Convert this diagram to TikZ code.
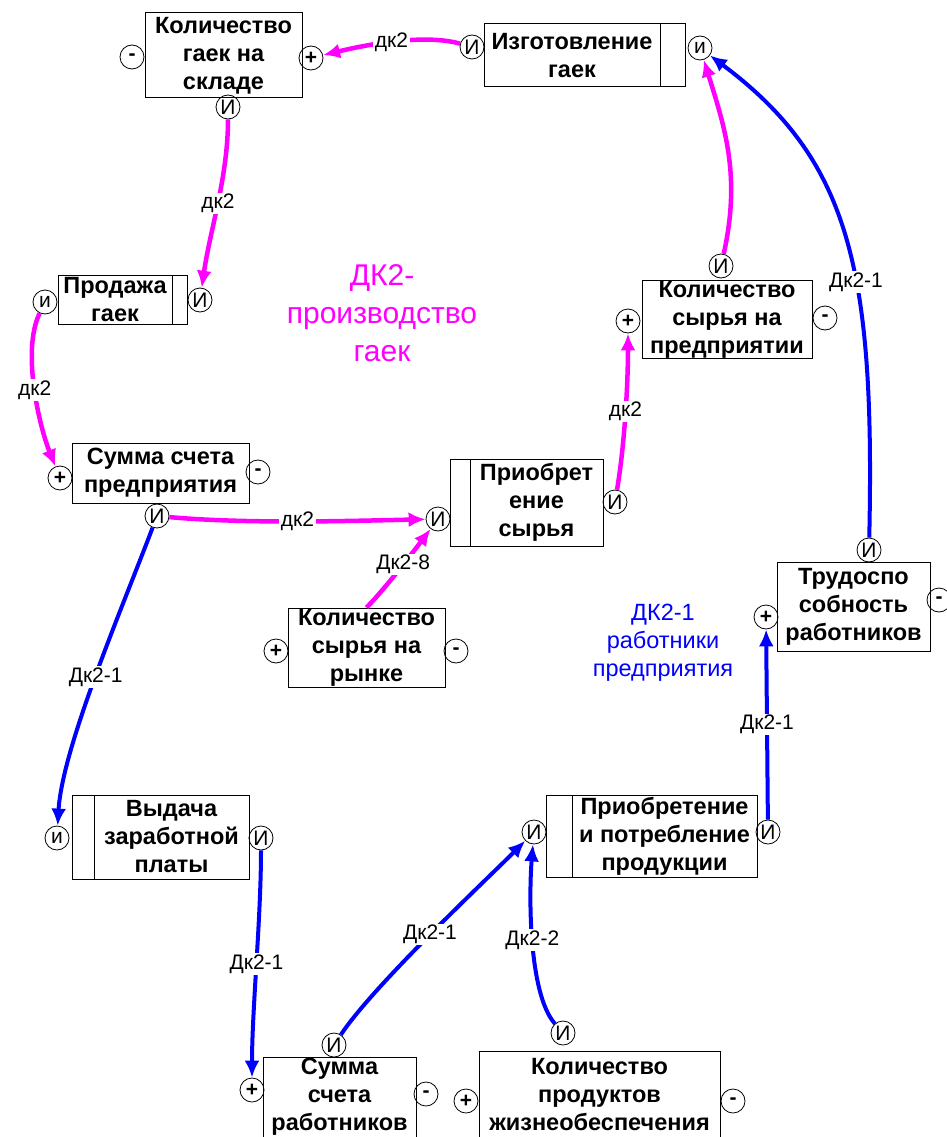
\documentclass[tikz,border=0pt]{standalone}
\usepackage{fontspec}
\setmainfont{Liberation Sans}
\usetikzlibrary{arrows.meta}
\definecolor{mgc}{RGB}{255,0,255}
\definecolor{blc}{RGB}{0,0,255}
\newcommand{\bxfont}{\fontsize{23.5}{28}\selectfont\bfseries}
\newcommand{\pnfont}{\fontsize{21}{21}\selectfont}
\newcommand{\lbfont}{\fontsize{21}{21}\selectfont}
\tikzset{
  box/.style={draw, line width=1pt, rectangle, inner sep=0pt, align=center, font=\bxfont},
  strip/.style={draw, line width=1pt},
  pin/.style={circle, draw, line width=0.8pt, inner sep=0pt, minimum size=24pt, font=\pnfont},
  pinb/.style={pin, font=\pnfont\bfseries},
  mg/.style={draw=mgc, line width=4.5pt, -{Latex[length=17pt,width=15pt]}},
  bl/.style={draw=blc, line width=4pt, -{Latex[length=17pt,width=15pt]}},
  lbl/.style={fill=white, inner sep=1.5pt, font=\lbfont, text=black},
}
\begin{document}
\begin{tikzpicture}[x=1pt,y=-1pt]
\clip (0,0) rectangle (947,1137);
\fill[white] (0,0) rectangle (947,1137);

% boxes
\node[box, minimum width=157pt, minimum height=85pt] (b1) at (223.5,55.5) {Количество\\гаек на\\складе};
\node[box, minimum width=176pt, minimum height=63pt] (b2) at (572,55.5) {Изготовление\\гаек};
\draw[strip] (660,24) rectangle (685,87);
\node[box, minimum width=114pt, minimum height=49pt] (b3) at (115,299.5) {Продажа\\гаек};
\draw[strip] (172,275) rectangle (187,324);
\node[box, minimum width=177pt, minimum height=60pt] (b4) at (160.5,473) {Сумма счета\\предприятия};
\node[box, minimum width=133pt, minimum height=87pt] (b5) at (536.5,502.5) {Приобрет\\ение\\сырья};
\draw[strip] (450,459) rectangle (470,546);
\node[box, minimum width=157pt, minimum height=79pt] (b6) at (366.5,647.5) {Количество\\сырья на\\рынке};
\node[box, minimum width=170pt, minimum height=75pt] (b7) at (727,319.5) {Количество\\сырья на\\предприятии};
\node[box, minimum width=153pt, minimum height=89pt] (b8) at (853.5,606.5) {Трудоспо\\собность\\работников};
\node[box, minimum width=155pt, minimum height=84pt] (b9) at (171.5,837) {Выдача\\заработной\\платы};
\draw[strip] (72,795) rectangle (94,879);
\node[box, minimum width=185pt, minimum height=82pt] (b10) at (664.5,836) {Приобретение\\и потребление\\продукции};
\draw[strip] (546,795) rectangle (572,877);
\node[box, minimum width=153pt, minimum height=80pt] (b11) at (339.5,1097) {Сумма\\счета\\работников};
\node[box, minimum width=241pt, minimum height=87pt] (b12) at (599.5,1094.5) {Количество\\продуктов\\жизнеобеспечения};

% pins
\node[pinb] (c1m) at (132,57) {-};
\node[pinb] (c1p) at (311,58) {+};
\node[pin] (c1i) at (228,107) {И};
\node[pin] (c2l) at (472,47) {И};
\node[pin] (c2r) at (700,48) {и};
\node[pin] (c3l) at (45,302) {и};
\node[pin] (c3r) at (200,300) {И};
\node[pinb] (c4p) at (60,478) {+};
\node[pinb] (c4m) at (258,472) {-};
\node[pin] (c4i) at (157,516) {И};
\node[pin] (c5l) at (438,519) {И};
\node[pin] (c5r) at (615,502) {И};
\node[pinb] (c6p) at (276,651) {+};
\node[pinb] (c6m) at (456,651) {-};
\node[pinb] (c7p) at (628,321) {+};
\node[pinb] (c7m) at (825,318) {-};
\node[pin] (c7i) at (721,266) {И};
\node[pin] (c8i) at (869,550) {И};
\node[pinb] (c8p) at (766,617) {+};
\node[pinb] (c8m) at (939,600) {-};
\node[pin] (c9l) at (57,838) {и};
\node[pin] (c9r) at (261,838) {И};
\node[pin] (c10l) at (534,832) {И};
\node[pin] (c10r) at (768,832) {И};
\node[pin] (c11i) at (334,1045) {И};
\node[pinb] (c11p) at (252,1090) {+};
\node[pinb] (c11m) at (426,1094) {-};
\node[pin] (c12i) at (563,1033) {И};
\node[pinb] (c12p) at (466,1101) {+};
\node[pinb] (c12m) at (733,1101) {-};

% titles
\node[text=mgc, align=center, font=\fontsize{30}{38}\selectfont] (t1) at (382,313) {ДК2-\\производство\\гаек};
\node[text=blc, align=center, font=\fontsize{23.5}{28}\selectfont] (t2) at (663,643) {ДК2-1\\работники\\предприятия};

% magenta edges
\draw[mg] (c2l) .. controls +(-50,-14) and +(50,-12) .. (c1p) node[lbl,pos=0.5] {дк2};
\draw[mg] (c1i) .. controls +(0,70) and +(10,-70) .. (c3r) node[lbl,pos=0.5] {дк2};
\draw[mg] (c3l) .. controls +(-24,50) and +(-20,-50) .. (c4p) node[lbl,pos=0.5] {дк2};
\draw[mg] (c4i) .. controls +(90,8) and +(-90,2) .. (c5l) node[lbl,pos=0.5] {дк2};
\draw[mg] (b6.north) .. controls +(20,-20) and +(-15,20) .. (c5l) node[lbl,pos=0.5] {Дк2-8};
\draw[mg] (c5r) .. controls +(10,-60) and +(0,60) .. (c7p) node[lbl,pos=0.5] {дк2};
\draw[mg] (c7i) .. controls +(20,-90) and +(25,80) .. (c2r);

% blue edges
\draw[bl] (c8i) .. controls +(6,-280) and +(150,112) .. (c2r) node[lbl,pos=0.4] {Дк2-1};
\draw[bl] (c4i) .. controls +(-34,90) and +(5,-90) .. (c9l) node[lbl,pos=0.5] {Дк2-1};
\draw[bl] (c9r) .. controls +(0,80) and +(0,-80) .. (c11p) node[lbl,pos=0.5] {Дк2-1};
\draw[bl] (c11i) .. controls +(40,-60) and +(-50,50) .. (c10l) node[lbl,pos=0.5] {Дк2-1};
\draw[bl] (c12i) .. controls +(-35,-40) and +(-5,60) .. (c10l) node[lbl,pos=0.5] {Дк2-2};
\draw[bl] (c10r) -- (c8p) node[lbl,pos=0.5] {Дк2-1};
\end{tikzpicture}
\end{document}
